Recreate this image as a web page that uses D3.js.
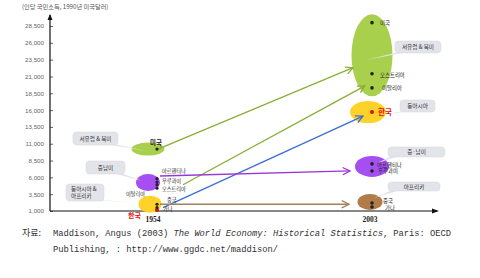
<!DOCTYPE html>
<html>
<head>
<meta charset="utf-8">
<script src="https://cdn.jsdelivr.net/npm/d3@7"></script>
<style>
  body { margin: 0; background: #fff; }
</style>
</head>
<body>
<div id="chart"></div>
<script>
// data
var years = [1954, 2003];
var yTicks = [1000, 3500, 6000, 8500, 11000, 13500, 16000, 18500, 21000, 23500, 26000, 28500];
var countries = ["미국", "오스트리아", "이탈리아", "아르헨티나", "우루과이", "한국", "중국", "가나"];
var gdp1954 = [10200, 4900, 4400, 5800, 5300, 1150, 2000, 1500];
var gdp2003 = [29000, 21400, 19300, 8000, 6950, 15700, 2200, 1600];

var regions1954 = ["서유럽 & 북미", "중남미", "동아시아 &\n아프리카"];
var members1954 = [["미국"], ["아르헨티나", "우루과이", "오스트리아", "이탈리아"], ["한국", "중국", "가나"]];
var regions2003 = ["서유럽 & 북미", "동아시아", "중·남미", "아프리카"];
var members2003 = [["미국", "오스트리아", "이탈리아"], ["한국"], ["아르헨티나", "우루과이"], ["중국", "가나"]];

// trajectories: start / end income
var arrowFrom = [10200, 4900, 1500, 6200, 2000];
var arrowTo = [22300, 19600, 15100, 6950, 2000];

var yTitle = "(인당 국민소득, 1990년 미국달러)";
var source1 = "Maddison, Angus (2003) ";
var sourceItalic = "The World Economy: Historical Statistics";
var source2 = ", Paris: OECD";
var source3 = "Publishing, : http://www.ggdc.net/maddison/";

var W = 480, H = 278;
var svg = d3.select("#chart").append("svg").attr("width", W).attr("height", H)
  .attr("font-family", "'Noto Sans CJK KR', 'Noto Sans', sans-serif");

var y = d3.scaleLinear().domain([1000, 28500]).range([211, 26]);
var x = d3.scaleLinear().domain(years).range([157, 372]);

var defs = svg.append("defs");
function marker(id, color) {
  defs.append("marker").attr("id", id)
    .attr("viewBox", "0 0 10 10").attr("refX", 9).attr("refY", 5)
    .attr("markerWidth", 7).attr("markerHeight", 7).attr("orient", "auto")
    .append("path").attr("d", "M1,1 L9,5 L1,9").attr("fill", "none")
    .attr("stroke", color).attr("stroke-width", 1.4);
}

// title
svg.append("text").attr("x", 22).attr("y", 9).attr("font-size", 6.2).attr("fill", "#555").text(yTitle);

// y axis
var yAxis = svg.append("g").attr("transform", "translate(50,0)")
  .call(d3.axisRight(y).tickValues(yTicks).tickSize(3).tickFormat(d3.format(",")));
yAxis.attr("font-family", null);
yAxis.select(".domain").remove();
yAxis.selectAll(".tick line").attr("stroke", "#666");
yAxis.selectAll(".tick text").attr("x", -6).attr("text-anchor", "end")
  .attr("font-family", "Liberation Sans").attr("font-size", 6.2).attr("fill", "#666");
svg.append("path").attr("d", "M50,211 L50,15").attr("stroke", "#111").attr("stroke-width", 1.2);
svg.append("path").attr("d", "M47.5,20 L50,14 L52.5,20 Z").attr("fill", "#111");

// x axis
svg.append("path").attr("d", "M50,211 L437,211").attr("stroke", "#111").attr("stroke-width", 1.2);
svg.append("path").attr("d", "M432,208.5 L439,211 L432,213.5 Z").attr("fill", "#111");
svg.selectAll(".xl").data(years).enter().append("text")
  .attr("x", function(d, i) { return x(d) - (i ? 2 : 4); }).attr("y", 222)
  .attr("text-anchor", "middle").attr("font-family", "Liberation Serif")
  .attr("font-weight", "bold").attr("font-size", 7.5).attr("fill", "#222").text(function(d) { return d; });

// ellipses
var colors1954 = ["#a9d04d", "#a54ff2", "#ffd22a"];
var colors2003 = ["#a9d04d", "#ffd22a", "#a54ff2", "#b07c4a"];
function ext(members, vals) {
  var v = members.map(function(m) { return y(vals[countries.indexOf(m)]); });
  return [d3.min(v), d3.max(v)];
}
var ell1954 = [[-9, 16.5, 6.5], [-9, 12, 8.5], [-7, 11.5, 8.5]];
var ell2003 = [[0, 20.5, 41], [-4, 18, 11], [0, 17, 10.5], [-2, 12.5, 8]];
var ellCy1954 = [0, -1, -3];
var ellCy2003 = [0, 0, -1, -3];

members1954.forEach(function(m, i) {
  var e = ext(m, gdp1954);
  svg.append("ellipse").attr("cx", x(1954) + ell1954[i][0]).attr("cy", (e[0] + e[1]) / 2 + ellCy1954[i])
    .attr("rx", ell1954[i][1]).attr("ry", ell1954[i][2]).attr("fill", colors1954[i]);
});
members2003.forEach(function(m, i) {
  var e = ext(m, gdp2003);
  svg.append("ellipse").attr("cx", x(2003) + ell2003[i][0]).attr("cy", (e[0] + e[1]) / 2 + ellCy2003[i])
    .attr("rx", ell2003[i][1]).attr("ry", ell2003[i][2]).attr("fill", colors2003[i]);
});

// callouts
function callout(rx, ry, rw, rh, tx, ty, label, side) {
  var g = svg.append("g");
  var bx = side === "r" ? rx + rw - 8 : rx + 8;
  g.append("path").attr("d", "M" + (bx - 4) + "," + (ry + rh - 1) + " L" + tx + "," + ty + " L" + (bx + 4) + "," + (ry + rh - 1) + " Z")
    .attr("fill", "#e3e3ea");
  g.append("rect").attr("x", rx).attr("y", ry).attr("width", rw).attr("height", rh).attr("rx", 3.5)
    .attr("fill", "#e3e3ea").attr("stroke", "#d6d6de").attr("stroke-width", 0.5);
  var lines = label.split("\n");
  lines.forEach(function(l, k) {
    g.append("text").attr("x", lines.length > 1 ? rx + 5 : rx + rw / 2)
      .attr("y", ry + rh / 2 + 2.2 + (k - (lines.length - 1) / 2) * 7)
      .attr("text-anchor", lines.length > 1 ? "start" : "middle")
      .attr("font-size", 5.6).attr("fill", "#333").text(l);
  });
}
var box1954 = [[73, 132, 45, 13, 146, 151], [86, 161, 39, 13, 142, 181], [66, 184, 38, 17, 145, 203]];
var box2003 = [[395, 41, 46, 12, 366, 60], [400, 100, 35, 12, 380, 115], [388, 147, 57, 10, 377, 163], [388, 182, 52, 9, 374, 198]];
regions1954.forEach(function(r, i) { var b = box1954[i]; callout(b[0], b[1], b[2], b[3], b[4], b[5], r, "r"); });
regions2003.forEach(function(r, i) { var b = box2003[i]; callout(b[0], b[1], b[2], b[3], b[4], b[5], r, "l"); });

// arrows
var arrowColors = ["#8aae36", "#8aae36", "#3b6fd6", "#9a35d8", "#a4805a"];
var arrowX0 = [1, 26, 6, 3, 3];
var arrowX1 = [-19, -7, -9, -22, -23];
arrowColors.forEach(function(c, i) { marker("ar" + i, c); });
svg.selectAll(".arrow").data(arrowFrom).enter().append("line")
  .attr("x1", function(d, i) { return x(1954) + arrowX0[i]; })
  .attr("y1", function(d) { return y(d); })
  .attr("x2", function(d, i) { return x(2003) + arrowX1[i]; })
  .attr("y2", function(d, i) { return y(arrowTo[i]); })
  .attr("stroke", function(d, i) { return arrowColors[i]; })
  .attr("stroke-width", 1.3)
  .attr("marker-end", function(d, i) { return "url(#ar" + i + ")"; });

// points
function dotColor(c) { return c === "한국" ? "#e01010" : "#222"; }
svg.selectAll(".d54").data(countries).enter().append("circle")
  .attr("cx", x(1954)).attr("cy", function(d, i) { return y(gdp1954[i]); })
  .attr("r", function(d) { return d === "한국" ? 2 : 1.6; }).attr("fill", dotColor);
svg.selectAll(".d03").data(countries).enter().append("circle")
  .attr("cx", x(2003)).attr("cy", function(d, i) { return y(gdp2003[i]); })
  .attr("r", function(d) { return d === "한국" ? 2 : 1.8; }).attr("fill", dotColor);

// country labels (layout offsets, same order as countries)
var lab1954 = [[-1, -4, "middle"], [5, 6, "start"], [-12, 8, "end"], [5, -6.2, "start"], [5, 1, "start"], [-16, 8, "end"], [10, -2.5, "start"], [6, 3, "start"]];
var lab2003 = [[8, 2.5, "start"], [8, 3, "start"], [10, 2.5, "start"], [5, 3, "start"], [6, 2.5, "start"], [6, 2.5, "start"], [11, 0, "start"], [13, 3.5, "start"]];
countries.forEach(function(c, i) {
  var kr = c === "한국", us = c === "미국";
  svg.append("text").attr("x", x(1954) + lab1954[i][0]).attr("y", y(gdp1954[i]) + lab1954[i][1])
    .attr("text-anchor", lab1954[i][2])
    .attr("font-size", kr ? 7 : (us ? 6.5 : 5.2)).attr("font-weight", kr || us ? "bold" : "normal")
    .attr("fill", kr ? "#e01010" : "#222").text(c);
  svg.append("text").attr("x", x(2003) + lab2003[i][0]).attr("y", y(gdp2003[i]) + lab2003[i][1])
    .attr("text-anchor", lab2003[i][2])
    .attr("font-size", kr ? 7.5 : 5.4).attr("font-weight", kr ? "bold" : "normal")
    .attr("fill", kr ? "#e01010" : "#222").text(c);
});

// source
svg.append("text").attr("x", 22).attr("y", 236).attr("font-family", "Noto Sans CJK KR")
  .attr("font-size", 9).attr("fill", "#333").text("자료:");
var s = svg.append("text").attr("x", 53).attr("y", 236).attr("font-family", "Liberation Mono")
  .attr("font-size", 8.8).attr("fill", "#333")
  .attr("textLength", 398).attr("lengthAdjust", "spacing");
s.append("tspan").text(source1);
s.append("tspan").attr("font-style", "italic").text(sourceItalic);
s.append("tspan").text(source2);
svg.append("text").attr("x", 53).attr("y", 252).attr("font-family", "Liberation Mono")
  .attr("font-size", 8.8).attr("fill", "#333")
  .attr("textLength", 225).attr("lengthAdjust", "spacing").text(source3);
</script>
</body>
</html>
